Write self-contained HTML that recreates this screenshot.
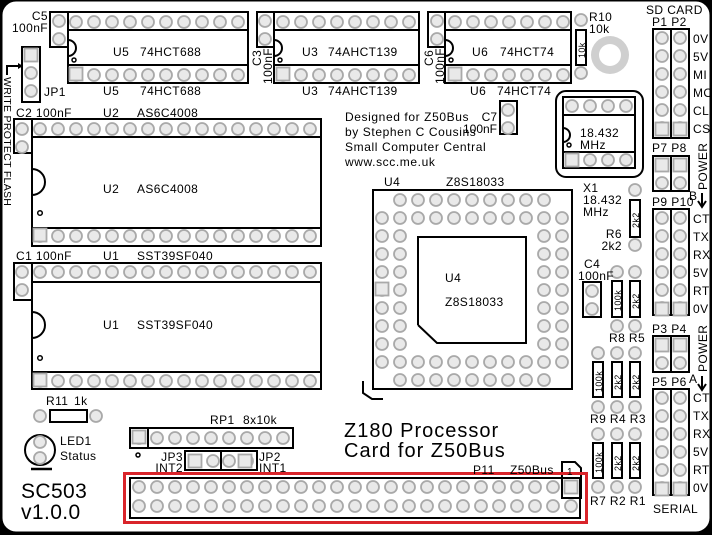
<!DOCTYPE html>
<html><head><meta charset="utf-8"><style>
html,body{margin:0;padding:0;background:#000;}
svg{display:block;}
text{font-family:"Liberation Sans",sans-serif;font-size:12px;fill:#000;letter-spacing:0.4px;}
</style></head><body>
<svg width="712" height="535" viewBox="0 0 712 535" xmlns="http://www.w3.org/2000/svg">
<defs>
<pattern id="p" x="0" y="0" width="18" height="18" patternUnits="userSpaceOnUse">
<circle cx="9" cy="9" r="6" fill="#e9e9e9" stroke="#a9a9a9" stroke-width="1.8"/>
</pattern>
</defs>
<rect x="2" y="1" width="708" height="531" rx="14" fill="#fff" stroke="#000" stroke-width="1"/>

<g fill="none" stroke="#000" stroke-width="2">
<rect x="50" y="12" width="18" height="35"/>
<rect x="68" y="12" width="180" height="71"/>
<line x1="68" y1="30" x2="248" y2="30"/><line x1="68" y1="65" x2="248" y2="65"/>
<path d="M68,40 A8,8 0 0 1 68,56"/>
<rect x="257" y="12" width="17" height="35"/>
<rect x="274" y="12" width="145" height="71"/>
<line x1="274" y1="30" x2="419" y2="30"/><line x1="274" y1="65" x2="419" y2="65"/>
<path d="M274,40 A8,8 0 0 1 274,56"/>
<rect x="428" y="12" width="17" height="35"/>
<rect x="445" y="12" width="126" height="71"/>
<line x1="445" y1="30" x2="571" y2="30"/><line x1="445" y1="65" x2="571" y2="65"/>
<path d="M445,40 A8,8 0 0 1 445,56"/>
<rect x="576" y="30" width="10" height="35"/>
<rect x="22" y="47" width="18" height="55"/>
<path d="M7,75 V66 H18"/>
<rect x="14" y="119" width="18" height="34"/>
<rect x="32" y="119" width="289" height="127"/>
<line x1="32" y1="137" x2="321" y2="137"/><line x1="32" y1="228" x2="321" y2="228"/>
<path d="M32,169 A13,13 0 0 1 32,195"/>
<rect x="14" y="263" width="18" height="37"/>
<rect x="32" y="263" width="289" height="126"/>
<line x1="32" y1="282" x2="321" y2="282"/><line x1="32" y1="372" x2="321" y2="372"/>
<path d="M32,312 A13,13 0 0 1 32,338"/>
<rect x="373" y="190" width="199" height="199"/>
<path d="M418,325 V237 H526 V343 H437 L418,325"/>
<path d="M363,381 V393 L372,399 H383"/>
<rect x="500" y="101" width="17" height="33"/>
<rect x="556" y="91" width="87" height="86" rx="10"/>
<rect x="563" y="97" width="72" height="71"/>
<line x1="563" y1="115" x2="635" y2="115"/><line x1="563" y1="152" x2="635" y2="152"/>
<path d="M563,128 A7,7 0 0 1 563,142"/>
<rect x="653" y="29" width="18" height="109"/><rect x="671" y="29" width="18" height="109"/>
<rect x="653" y="156" width="18" height="35"/><rect x="671" y="156" width="18" height="35"/>
<rect x="653" y="209" width="18" height="106"/><rect x="671" y="209" width="18" height="106"/>
<rect x="653" y="336" width="18" height="36"/><rect x="671" y="336" width="18" height="36"/>
<rect x="653" y="389" width="18" height="106"/><rect x="671" y="389" width="18" height="106"/>
<rect x="630" y="200" width="10" height="37"/>
<rect x="612" y="281" width="10" height="36"/>
<rect x="630" y="281" width="10" height="36"/>
<rect x="593" y="362" width="10" height="35"/>
<rect x="612" y="362" width="10" height="35"/>
<rect x="630" y="362" width="10" height="35"/>
<rect x="593" y="443" width="10" height="35"/>
<rect x="612" y="443" width="10" height="35"/>
<rect x="630" y="443" width="10" height="35"/>
<rect x="583" y="282" width="18" height="35"/>
<rect x="50" y="410" width="37" height="12"/>
<circle cx="40" cy="450" r="15"/>
<line x1="31" y1="469" x2="52" y2="469" stroke-width="2.5"/>
<rect x="130" y="428" width="163" height="20"/>
<line x1="148" y1="428" x2="148" y2="448"/>
<rect x="185" y="451" width="72" height="19"/>
<line x1="221" y1="451" x2="221" y2="470"/>
<rect x="130" y="478" width="450" height="40"/>
<path d="M562,498 V462 H575 L581,468 V498 Z"/>
<path d="M702,193 V206 M698,201 L702,207 L706,201"/>
<path d="M702,376 V389 M698,384 L702,390 L706,384"/>
</g>
<rect x="124.5" y="473.5" width="462" height="49" fill="none" stroke="#d9242a" stroke-width="3"/>

<circle cx="610" cy="55" r="19" fill="#cfcfcf"/>
<circle cx="610" cy="55" r="11" fill="#fff"/>

<g fill="url(#p)">
<g transform="translate(67,13)"><rect width="180" height="18"/></g>
<g transform="translate(67,66)"><rect width="180" height="18"/></g>
<g transform="translate(274,13)"><rect width="144" height="18"/></g>
<g transform="translate(274,66)"><rect width="144" height="18"/></g>
<g transform="translate(446,13)"><rect width="126" height="18"/></g>
<g transform="translate(446,66)"><rect width="126" height="18"/></g>
<g transform="translate(50,12)"><rect width="18" height="36"/></g>
<g transform="translate(256,12)"><rect width="18" height="36"/></g>
<g transform="translate(428,12)"><rect width="18" height="36"/></g>
<g transform="translate(22,46)"><rect width="18" height="54"/></g>
<g transform="translate(31,120)"><rect width="288" height="18"/></g>
<g transform="translate(31,227)"><rect width="288" height="18"/></g>
<g transform="translate(13,120)"><rect width="18" height="36"/></g>
<g transform="translate(31,263)"><rect width="288" height="18"/></g>
<g transform="translate(31,372)"><rect width="288" height="18"/></g>
<g transform="translate(13,263)"><rect width="18" height="36"/></g>
<g transform="translate(391,191)"><rect width="162" height="18"/></g>
<g transform="translate(373,209)"><rect width="198" height="18"/></g>
<g transform="translate(373,227)"><rect width="36" height="126"/></g>
<g transform="translate(535,227)"><rect width="36" height="126"/></g>
<g transform="translate(373,353)"><rect width="198" height="18"/></g>
<g transform="translate(391,371)"><rect width="162" height="18"/></g>
<g transform="translate(499,101)"><rect width="18" height="34"/></g>
<g transform="translate(563,97)"><rect width="72" height="18"/></g>
<g transform="translate(563,151)"><rect width="72" height="18"/></g>
<g transform="translate(653,29)"><rect width="36" height="108"/></g>
<g transform="translate(653,156)"><rect width="36" height="36"/></g>
<g transform="translate(653,209)"><rect width="36" height="108"/></g>
<g transform="translate(653,336)"><rect width="36" height="36"/></g>
<g transform="translate(653,389)"><rect width="36" height="108"/></g>
<g transform="translate(583,282)"><rect width="18" height="36"/></g>
<g transform="translate(130,429)"><rect width="162" height="18"/></g>
<g transform="translate(186,452)"><rect width="36" height="18"/></g>
<g transform="translate(220,452)"><rect width="36" height="18"/></g>
<g transform="translate(130,478)"><rect width="450" height="18"/></g>
<g transform="translate(130,497)"><rect width="450" height="18"/></g>
</g>
<g fill="#e9e9e9" stroke="#a9a9a9" stroke-width="1.8">
<circle cx="581" cy="20" r="6"/><circle cx="581" cy="73" r="6"/>
<circle cx="635" cy="190" r="6"/><circle cx="635" cy="245" r="6"/>
<circle cx="617" cy="272" r="6"/><circle cx="617" cy="326" r="6"/>
<circle cx="635" cy="272" r="6"/><circle cx="635" cy="326" r="6"/>
<circle cx="598" cy="353" r="6"/><circle cx="598" cy="407" r="6"/>
<circle cx="617" cy="353" r="6"/><circle cx="617" cy="407" r="6"/>
<circle cx="635" cy="353" r="6"/><circle cx="635" cy="407" r="6"/>
<circle cx="598" cy="434" r="6"/><circle cx="598" cy="487" r="6"/>
<circle cx="617" cy="434" r="6"/><circle cx="617" cy="487" r="6"/>
<circle cx="635" cy="434" r="6"/><circle cx="635" cy="487" r="6"/>
<circle cx="40" cy="416" r="6"/><circle cx="96" cy="416" r="6"/>
<circle cx="40" cy="442" r="6"/><circle cx="40" cy="458" r="6"/>
<rect x="69.5" y="67.5" width="13" height="13"/>
<rect x="276.5" y="67.5" width="13" height="13"/>
<rect x="448.5" y="67.5" width="13" height="13"/>
<rect x="24.5" y="48.5" width="13" height="13"/>
<rect x="33.5" y="228.5" width="13" height="13"/>
<rect x="33.5" y="373.5" width="13" height="13"/>
<rect x="375.5" y="282.5" width="13" height="13"/>
<rect x="565.5" y="153.5" width="13" height="13"/>
<rect x="655.5" y="122.5" width="13" height="13"/><rect x="673.5" y="122.5" width="13" height="13"/>
<rect x="655.5" y="158.5" width="13" height="13"/><rect x="673.5" y="158.5" width="13" height="13"/>
<rect x="655.5" y="302.5" width="13" height="13"/><rect x="673.5" y="302.5" width="13" height="13"/>
<rect x="655.5" y="338.5" width="13" height="13"/><rect x="673.5" y="338.5" width="13" height="13"/>
<rect x="655.5" y="482.5" width="13" height="13"/><rect x="673.5" y="482.5" width="13" height="13"/>
<rect x="132.5" y="430.5" width="13" height="13"/>
<rect x="188.5" y="454.5" width="13" height="13"/>
<rect x="238.5" y="454.5" width="13" height="13"/>
<rect x="564.5" y="480.5" width="13" height="13"/>
</g>
<g fill="none" stroke="#000" stroke-width="1.5">
<circle cx="74" cy="60" r="2"/><circle cx="280" cy="60" r="2"/><circle cx="451" cy="60" r="2"/>
<circle cx="40" cy="213" r="2.3"/><circle cx="40" cy="358" r="2.3"/>
<circle cx="569" cy="145" r="2"/><circle cx="138" cy="455" r="2"/>
</g>
<path d="M18,63 L23,66 L18,69 Z" fill="#000"/>

<text x="48" y="20" text-anchor="end">C5</text>
<text x="48" y="32" text-anchor="end">100nF</text>
<text x="113" y="56">U5</text><text x="140" y="56">74HCT688</text>
<text x="103" y="95">U5</text><text x="140" y="95">74HCT688</text>
<text x="302" y="56">U3</text><text x="328" y="56">74AHCT139</text>
<text x="302" y="95">U3</text><text x="328" y="95">74AHCT139</text>
<text x="472" y="56">U6</text><text x="500" y="56">74HCT74</text>
<text x="470" y="95">U6</text><text x="497" y="95">74HCT74</text>
<text transform="translate(261,66) rotate(-90)">C3</text>
<text transform="translate(272,84) rotate(-90)">100nF</text>
<text transform="translate(433,66) rotate(-90)">C6</text>
<text transform="translate(444,84) rotate(-90)">100nF</text>
<text transform="translate(585,58) rotate(-90)" style="font-size:9px">10k</text>
<text x="589" y="21">R10</text><text x="589" y="33">10k</text>
<text x="646" y="14">SD CARD</text><text x="652" y="26">P1 P2</text>
<text x="693" y="43">0V</text><text x="693" y="61">5V</text><text x="693" y="79">MI</text>
<text x="693" y="97">MO</text><text x="693" y="115">CL</text><text x="693" y="133">CS</text>
<text x="44" y="96">JP1</text>
<text transform="translate(4,77) rotate(90)" style="font-size:10.5px;letter-spacing:0.3px">WRITE PROTECT FLASH</text>
<text x="16" y="117">C2 100nF</text><text x="103" y="117">U2</text><text x="137" y="117">AS6C4008</text>
<text x="103" y="193">U2</text><text x="137" y="193">AS6C4008</text>
<text x="16" y="260">C1 100nF</text><text x="103" y="260">U1</text><text x="137" y="260">SST39SF040</text>
<text x="103" y="329">U1</text><text x="137" y="329">SST39SF040</text>
<text x="345" y="121" style="letter-spacing:0.6px">Designed for Z50Bus</text>
<text x="345" y="136" style="letter-spacing:0.6px">by Stephen C Cousins</text>
<text x="345" y="151" style="letter-spacing:0.6px">Small Computer Central</text>
<text x="345" y="166" style="letter-spacing:0.6px">www.scc.me.uk</text>
<text x="497" y="121" text-anchor="end" style="letter-spacing:0">C7</text><text x="497" y="133" text-anchor="end" style="letter-spacing:0">100nF</text>
<text x="580" y="137">18.432</text><text x="580" y="149">MHz</text>
<text x="652" y="152">P7 P8</text>
<text transform="translate(707,190) rotate(-90)">POWER</text>
<text x="689" y="200">B</text>
<text x="384" y="186">U4</text><text x="446" y="186">Z8S18033</text>
<text x="445" y="282">U4</text><text x="445" y="306">Z8S18033</text>
<text x="583" y="192">X1</text><text x="583" y="204">18.432</text><text x="583" y="216">MHz</text>
<text transform="translate(639,228) rotate(-90)" style="font-size:9px">2k2</text>
<text x="622" y="238" text-anchor="end">R6</text><text x="622" y="250" text-anchor="end">2k2</text>
<text x="584" y="268">C4</text><text x="578" y="280">100nF</text>
<text x="652" y="206">P9 P10</text>
<text x="693" y="223">CT</text><text x="693" y="241">TX</text><text x="693" y="259">RX</text>
<text x="693" y="277">5V</text><text x="693" y="295">RT</text><text x="693" y="313">0V</text>
<text transform="translate(621,311) rotate(-90)" style="font-size:9px">100k</text>
<text transform="translate(639,309) rotate(-90)" style="font-size:9px">2k2</text>
<text x="609" y="342">R8 R5</text>
<text x="652" y="333">P3 P4</text>
<text transform="translate(707,372) rotate(-90)">POWER</text>
<text x="689" y="383">A</text>
<text x="652" y="386">P5 P6</text>
<text x="693" y="402">CT</text><text x="693" y="420">TX</text><text x="693" y="438">RX</text>
<text x="693" y="456">5V</text><text x="693" y="474">RT</text><text x="693" y="492">0V</text>
<text x="653" y="513">SERIAL</text>
<text transform="translate(602,392) rotate(-90)" style="font-size:9px">100k</text>
<text transform="translate(621,390) rotate(-90)" style="font-size:9px">2k2</text>
<text transform="translate(639,390) rotate(-90)" style="font-size:9px">2k2</text>
<text x="590" y="423">R9 R4 R3</text>
<text transform="translate(602,473) rotate(-90)" style="font-size:9px">100k</text>
<text transform="translate(621,471) rotate(-90)" style="font-size:9px">2k2</text>
<text transform="translate(639,471) rotate(-90)" style="font-size:9px">2k2</text>
<text x="590" y="505">R7 R2 R1</text>
<text x="46" y="405">R11</text><text x="74" y="405">1k</text>
<text x="60" y="445">LED1</text><text x="60" y="460">Status</text>
<text x="21" y="498" style="font-size:21px">SC503</text>
<text x="21" y="519" style="font-size:21px">v1.0.0</text>
<text x="210" y="424">RP1</text><text x="243" y="424">8x10k</text>
<text x="183" y="461" text-anchor="end">JP3</text><text x="183" y="472" text-anchor="end">INT2</text>
<text x="259" y="461">JP2</text><text x="259" y="472">INT1</text>
<text x="344" y="437" style="font-size:20px;letter-spacing:1px">Z180 Processor</text>
<text x="344" y="457" style="font-size:20px;letter-spacing:1px">Card for Z50Bus</text>
<text x="473" y="474">P11</text><text x="510" y="474">Z50Bus</text>
<text x="567" y="475" style="font-size:10px">1</text>
</svg>
</body></html>
